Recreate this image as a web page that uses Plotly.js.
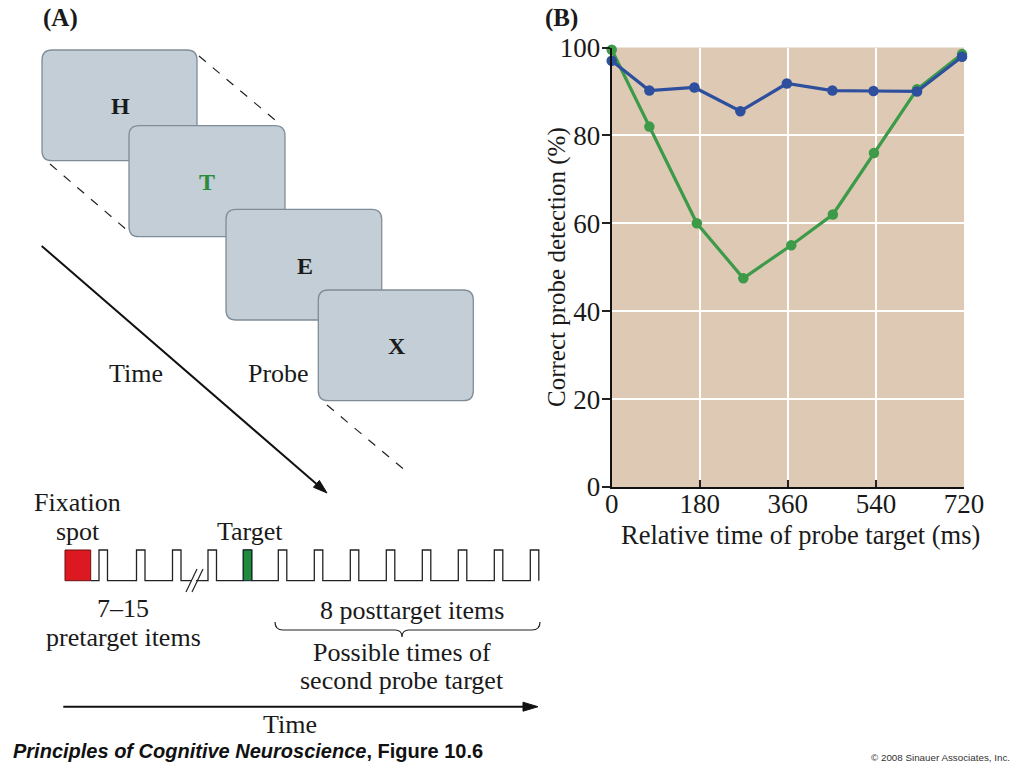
<!DOCTYPE html>
<html>
<head>
<meta charset="utf-8">
<script src="https://cdn.plot.ly/plotly-3.0.1.min.js"></script>
<style>html,body{margin:0;padding:0;background:#fff;}#chart{width:1023px;height:769px;}</style>
</head>
<body>
<div id="chart"></div>
<script>
// ---- Data (panel B) ----
const greenTime = [0, 77, 174, 269, 367, 452, 536, 624, 716];
const greenPct  = [99.5, 82, 60, 47.5, 55, 62, 76, 90.5, 98.5];
const blueTime  = [0, 77, 169, 263, 358, 451, 535, 624, 716];
const bluePct   = [97, 90.2, 90.9, 85.5, 91.8, 90.2, 90.1, 90, 97.9];
const xTickVals = [0, 180, 360, 540, 720];
const xTickText = ['0', '180', '360', '540', '720'];
const yTickVals = [0, 20, 40, 60, 80, 100];
const yTickText = ['0', '20', '40', '60', '80', '100'];
const xTitle = 'Relative time of probe target (ms)';
const yTitle = 'Correct probe detection (%)';
const cardLetters = ['H', 'T', 'E', 'X'];

// ---- Page geometry helpers (diagram, panel A) ----
const W = 1023, H = 769;
const X = v => (v / W).toFixed(5);
const Y = v => (1 - v / H).toFixed(5);
const SERIF = 'Liberation Serif, Times New Roman, serif';
const SANS = 'Liberation Sans, Arial, sans-serif';

function rrPath(x0, y0, x1, y1, r) {
  return 'M' + X(x0 + r) + ',' + Y(y0) + ' L' + X(x1 - r) + ',' + Y(y0) +
    ' Q' + X(x1) + ',' + Y(y0) + ' ' + X(x1) + ',' + Y(y0 + r) +
    ' L' + X(x1) + ',' + Y(y1 - r) +
    ' Q' + X(x1) + ',' + Y(y1) + ' ' + X(x1 - r) + ',' + Y(y1) +
    ' L' + X(x0 + r) + ',' + Y(y1) +
    ' Q' + X(x0) + ',' + Y(y1) + ' ' + X(x0) + ',' + Y(y1 - r) +
    ' L' + X(x0) + ',' + Y(y0 + r) +
    ' Q' + X(x0) + ',' + Y(y0) + ' ' + X(x0 + r) + ',' + Y(y0) + ' Z';
}
function seg(x0, y0, x1, y1, opts) {
  return Object.assign({type: 'line', xref: 'paper', yref: 'paper',
    x0: x0 / W, y0: 1 - y0 / H, x1: x1 / W, y1: 1 - y1 / H,
    line: {color: '#111', width: 1}}, opts || {});
}
function pathShape(dStr, opts) {
  return Object.assign({type: 'path', xref: 'paper', yref: 'paper', path: dStr,
    line: {color: '#111', width: 1}}, opts || {});
}
function arrowHead(x0, y0, x1, y1, len, half) {
  const dx = x1 - x0, dy = y1 - y0, L = Math.hypot(dx, dy);
  const ux = dx / L, uy = dy / L, bx = x1 - ux * len, by = y1 - uy * len;
  const px = -uy * half, py = ux * half;
  return 'M' + X(x1) + ',' + Y(y1) + ' L' + X(bx + px) + ',' + Y(by + py) +
    ' L' + X(bx - px) + ',' + Y(by - py) + ' Z';
}

const shapes = [];
// dashed guide lines behind cards
shapes.push(seg(199, 56, 281, 125, {line: {color: '#222', width: 1.2, dash: 'dash'}}));
shapes.push(seg(50, 164, 128, 231, {line: {color: '#222', width: 1.2, dash: 'dash'}}));
shapes.push(seg(327, 405, 407, 472, {line: {color: '#222', width: 1.2, dash: 'dash'}}));
// cards
const cards = [[42, 50, 197, 160.7], [129, 125.7, 285, 236.7], [226, 209.3, 381.7, 320], [318.3, 290, 473.3, 400.7]];
cards.forEach(c => shapes.push(pathShape(rrPath(c[0], c[1], c[2], c[3], 10),
  {fillcolor: '#c3ced7', line: {color: '#7f8d98', width: 1.3}})));
// diagonal time arrow
shapes.push(seg(41.7, 246, 320, 487, {line: {color: '#111', width: 2}}));
shapes.push(pathShape(arrowHead(41.7, 246, 327, 493, 14, 4.5), {fillcolor: '#111', line: {color: '#111', width: 1}}));

// pulse train
const pBase = 580.7, pTop = 550, pW = 8.5;
let pd = 'M' + X(90.7) + ',' + Y(pBase);
function pulse(x) {
  pd += ' L' + X(x) + ',' + Y(pBase) + ' L' + X(x) + ',' + Y(pTop) +
       ' L' + X(x + pW) + ',' + Y(pTop) + ' L' + X(x + pW) + ',' + Y(pBase);
}
[99, 136.5, 172.5].forEach(pulse);
pd += ' L' + X(191) + ',' + Y(pBase);
pd += ' M' + X(196) + ',' + Y(pBase);
pulse(208);
pulse(243.3);
for (let i = 0; i < 8; i++) pulse(278.3 + i * 36);
shapes.push(pathShape(pd, {line: {color: '#222', width: 1.3}}));
// break marks
shapes.push(seg(186, 592, 197, 569, {line: {color: '#222', width: 1.2}}));
shapes.push(seg(192, 592, 203, 569, {line: {color: '#222', width: 1.2}}));
// fixation spot and target
shapes.push({type: 'rect', xref: 'paper', yref: 'paper', x0: 65 / W, x1: 90.7 / W, y0: 1 - pBase / H, y1: 1 - pTop / H,
  fillcolor: '#dc1820', line: {color: '#6a1010', width: 1}});
shapes.push({type: 'rect', xref: 'paper', yref: 'paper', x0: 243.3 / W, x1: 251.7 / W, y0: 1 - pBase / H, y1: 1 - pTop / H,
  fillcolor: '#1f8b3b', line: {color: '#123', width: 1}});
// brace
const bl = 275, br = 540, bm = 402, by0 = 622, by1 = 630, by2 = 637;
shapes.push(pathShape(
  'M' + X(bl) + ',' + Y(by0) + ' Q' + X(bl) + ',' + Y(by1) + ' ' + X(bl + 8) + ',' + Y(by1) +
  ' L' + X(bm - 7) + ',' + Y(by1) + ' Q' + X(bm) + ',' + Y(by1) + ' ' + X(bm) + ',' + Y(by2) +
  ' Q' + X(bm) + ',' + Y(by1) + ' ' + X(bm + 7) + ',' + Y(by1) +
  ' L' + X(br - 8) + ',' + Y(by1) + ' Q' + X(br) + ',' + Y(by1) + ' ' + X(br) + ',' + Y(by0),
  {line: {color: '#222', width: 1.2}}));
// bottom time arrow
shapes.push(seg(63.3, 706.7, 528, 706.7, {line: {color: '#111', width: 2}}));
shapes.push(pathShape(arrowHead(63.3, 706.7, 538, 706.7, 15, 4.5), {fillcolor: '#111', line: {color: '#111', width: 1}}));

// annotations
function txt(text, x, y, size, opts) {
  return Object.assign({xref: 'paper', yref: 'paper', x: x / W, y: 1 - y / H, text: text,
    showarrow: false, xanchor: 'center', yanchor: 'middle',
    font: {family: SERIF, size: size, color: '#1a1a1a'}}, opts || {});
}
const annotations = [
  txt('<b>(A)</b>', 60, 18, 25),
  txt('<b>(B)</b>', 561, 18, 25),
  txt('<b>' + cardLetters[0] + '</b>', 120.7, 106, 24),
  txt('<b>' + cardLetters[1] + '</b>', 207, 182, 24, {font: {family: SERIF, size: 24, color: '#2a8c3c'}}),
  txt('<b>' + cardLetters[2] + '</b>', 305, 266, 24),
  txt('<b>' + cardLetters[3] + '</b>', 396.7, 346, 24),
  txt('Time', 136, 374, 26),
  txt('Probe', 278, 374, 26),
  txt('Fixation', 77, 502, 26),
  txt('spot', 78, 531, 26),
  txt('Target', 250, 531, 26),
  txt('7–15', 123, 608, 26),
  txt('pretarget items', 123, 637, 26),
  txt('8 posttarget items', 411.7, 610, 26),
  txt('Possible times of', 401.7, 652, 26),
  txt('second probe target', 401.7, 680, 26),
  txt('Time', 290, 724, 26),
  txt(xTitle, 800, 535, 26.5),
  txt(yTitle, 557, 267, 25, {textangle: -90}),
  txt('<b><i>Principles of Cognitive Neuroscience</i>, Figure 10.6</b>', 11, 751, 20,
      {xanchor: 'left', font: {family: SANS, size: 20, color: '#111'}}),
  txt('© 2008 Sinauer Associates, Inc.', 1012, 757, 9.8,
      {xanchor: 'right', font: {family: SANS, size: 9.8, color: '#333'}})
];

const traces = [
  {x: greenTime, y: greenPct, type: 'scatter', mode: 'lines+markers', name: 'Green',
   line: {color: '#3c9a48', width: 3.2}, marker: {color: '#3c9a48', size: 10.5}, cliponaxis: false, showlegend: false},
  {x: blueTime, y: bluePct, type: 'scatter', mode: 'lines+markers', name: 'Blue',
   line: {color: '#2d4f9d', width: 3.2}, marker: {color: '#2d4f9d', size: 10.5}, cliponaxis: false, showlegend: false}
];

const layout = {
  width: W, height: H,
  margin: {l: 0, r: 0, t: 0, b: 0, pad: 0},
  paper_bgcolor: '#ffffff',
  plot_bgcolor: '#decab4',
  showlegend: false,
  xaxis: {
    domain: [611.7 / W, 964 / W], range: [0, 720], autorange: false,
    tickmode: 'array', tickvals: xTickVals, ticktext: xTickText,
    ticks: 'inside', ticklen: 7, tickwidth: 2, tickcolor: '#222',
    showline: true, linecolor: '#111', linewidth: 2, mirror: false,
    showgrid: true, gridcolor: '#ffffff', gridwidth: 2, zeroline: false,
    tickfont: {family: SERIF, size: 27, color: '#1a1a1a'},
    ticklabelstandoff: -8,
    automargin: false, fixedrange: true
  },
  yaxis: {
    domain: [1 - 487 / H, 1 - 47.5 / H], range: [0, 100], autorange: false,
    tickmode: 'array', tickvals: yTickVals, ticktext: yTickText,
    ticks: 'outside', ticklen: 8, tickwidth: 2, tickcolor: '#222',
    showline: true, linecolor: '#111', linewidth: 2, mirror: false,
    showgrid: true, gridcolor: '#ffffff', gridwidth: 2, zeroline: false,
    tickfont: {family: SERIF, size: 27, color: '#1a1a1a'},
    ticklabelstandoff: -4,
    automargin: false, fixedrange: true
  },
  shapes: shapes,
  annotations: annotations
};

Plotly.newPlot('chart', traces, layout, {displayModeBar: false, staticPlot: true});
</script>
</body>
</html>
